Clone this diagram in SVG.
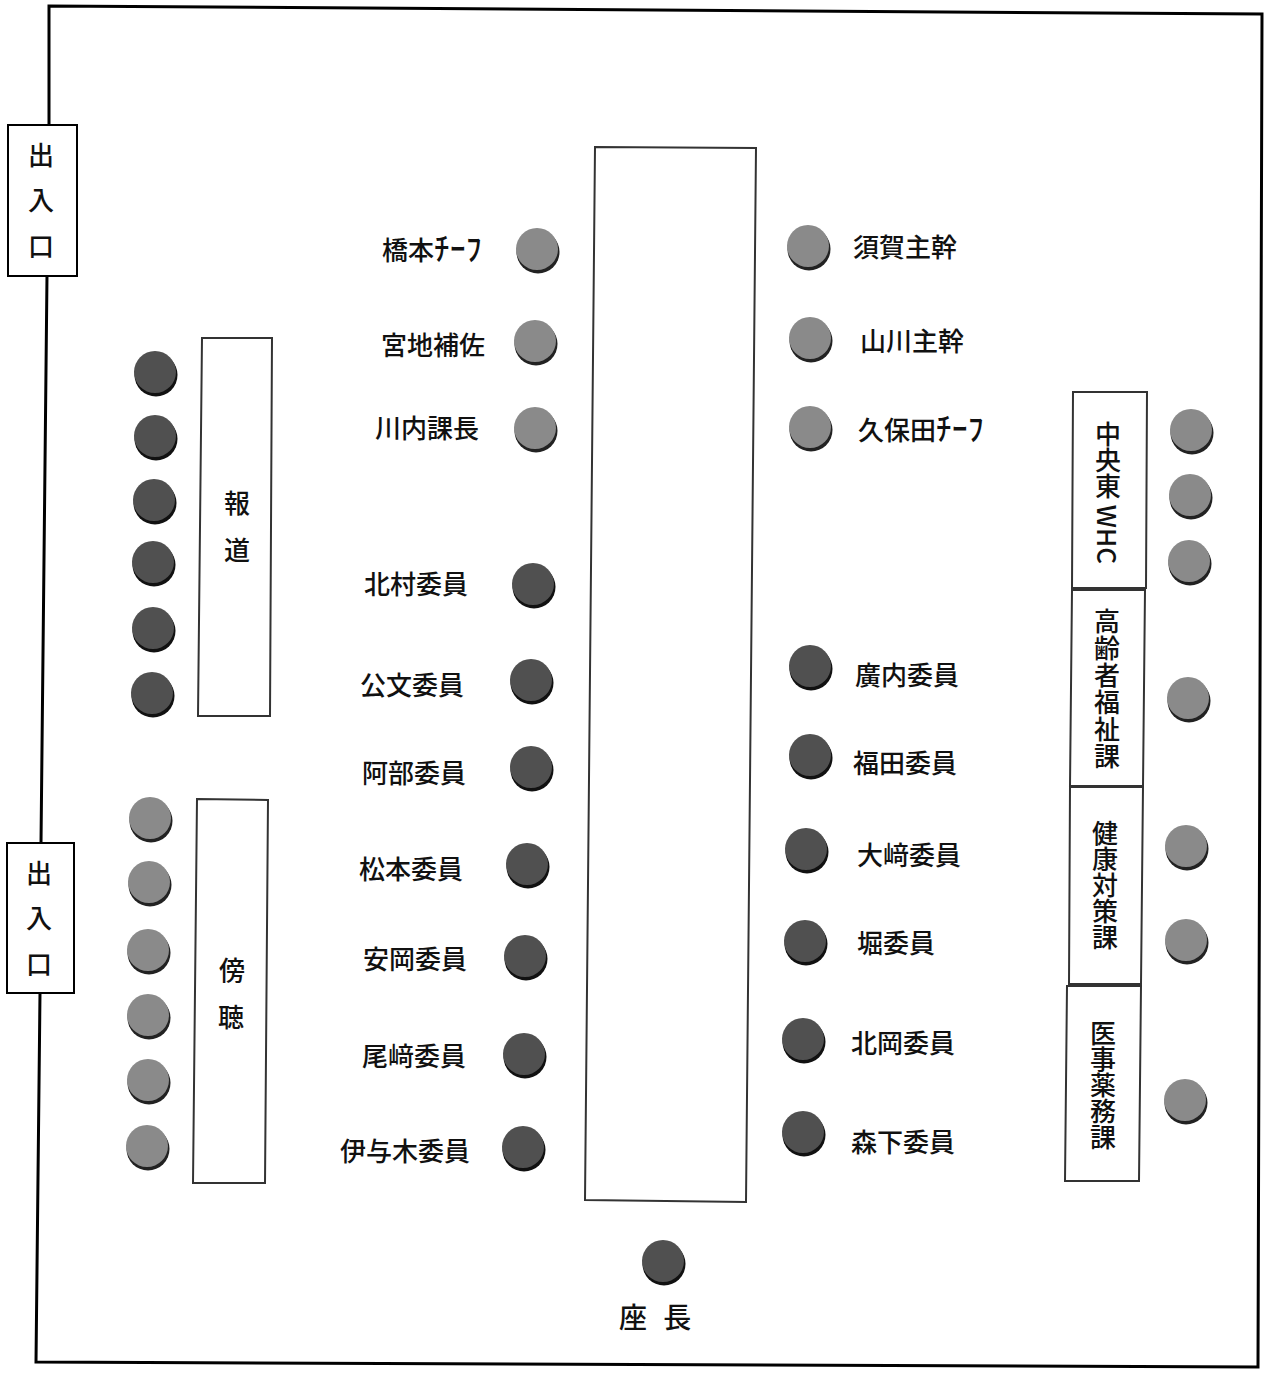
<svg xmlns="http://www.w3.org/2000/svg" xmlns:xlink="http://www.w3.org/1999/xlink" width="1277" height="1375" viewBox="0 0 1277 1375">
<style>
.wall{fill:none;stroke:#000;stroke-width:3;stroke-linejoin:miter}
.door{fill:#fff;stroke:#000;stroke-width:2}
.tbl{fill:#fff;stroke:#333;stroke-width:2}
.t{font-family:"Noto Sans CJK JP","Noto Sans",sans-serif;font-size:26px;fill:#111;font-weight:500}
.v{font-family:"Noto Sans CJK JP","Noto Sans",sans-serif;font-size:26px;fill:#111;font-weight:500;writing-mode:vertical-rl;text-anchor:start}
.c{text-anchor:middle}
.e{text-anchor:end}
.hw{font-size:31px;letter-spacing:0.5px}
</style>
<defs>
<g id="seatD"><circle cx="1" cy="3" r="21.5" fill="#111"/><circle cx="0" cy="0" r="21" fill="#505050"/></g>
<g id="seatL"><circle cx="1" cy="3" r="21.5" fill="#222"/><circle cx="0" cy="0" r="21" fill="#8a8a8a"/></g>
</defs>
<rect width="1277" height="1375" fill="#fff"/>
<g id="room">
<path class="wall" d="M49,125 L49,6 L1262,14 L1258,1367 L36,1362 L40,993 M41,843 L47,275"/>
</g>
<g id="door1"><rect class="door" x="8" y="125" width="69" height="151"/>
<text class="t c" x="41" y="165">出</text><text class="t c" x="41" y="210">入</text><text class="t c" x="41" y="256">口</text></g>
<g id="door2"><rect class="door" x="7" y="843" width="67" height="150"/>
<text class="t c" x="39" y="883">出</text><text class="t c" x="39" y="928">入</text><text class="t c" x="39" y="974">口</text></g>
<g id="table"><polygon class="tbl" points="595,147 756,148 746,1202 585,1200"/></g>
<g id="press"><polygon class="tbl" points="202,338 272,338 270,716 198,716"/>
<text class="t c" x="237" y="513">報</text><text class="t c" x="237" y="560">道</text>
<use xlink:href="#seatD" x="155" y="372"/><use xlink:href="#seatD" x="155" y="436"/><use xlink:href="#seatD" x="154" y="500"/><use xlink:href="#seatD" x="153" y="562"/><use xlink:href="#seatD" x="153" y="628"/><use xlink:href="#seatD" x="152" y="693"/></g>
<g id="audience"><polygon class="tbl" points="197,799 268,800 265,1183 193,1183"/>
<text class="t c" x="232" y="980">傍</text><text class="t c" x="231" y="1027">聴</text>
<use xlink:href="#seatL" x="150" y="818"/><use xlink:href="#seatL" x="149" y="882"/><use xlink:href="#seatL" x="148" y="950"/><use xlink:href="#seatL" x="148" y="1015"/><use xlink:href="#seatL" x="148" y="1080"/><use xlink:href="#seatL" x="147" y="1146"/></g>
<g id="left-seats">
<g id="hashimoto"><use xlink:href="#seatL" x="537" y="249"/><text class="t" x="382" y="260">橋本<tspan class="hw">ﾁｰﾌ</tspan></text></g>
<g id="miyachi"><use xlink:href="#seatL" x="535" y="341"/><text class="t e" x="485" y="355">宮地補佐</text></g>
<g id="kawauchi"><use xlink:href="#seatL" x="535" y="428"/><text class="t e" x="479" y="438">川内課長</text></g>
<g id="kitamura"><use xlink:href="#seatD" x="533" y="584"/><text class="t e" x="468" y="594">北村委員</text></g>
<g id="kumon"><use xlink:href="#seatD" x="531" y="680"/><text class="t e" x="464" y="695">公文委員</text></g>
<g id="abe"><use xlink:href="#seatD" x="531" y="767"/><text class="t e" x="466" y="783">阿部委員</text></g>
<g id="matsumoto"><use xlink:href="#seatD" x="527" y="864"/><text class="t e" x="463" y="879">松本委員</text></g>
<g id="yasuoka"><use xlink:href="#seatD" x="525" y="956"/><text class="t e" x="467" y="969">安岡委員</text></g>
<g id="ozaki"><use xlink:href="#seatD" x="524" y="1054"/><text class="t e" x="466" y="1066">尾﨑委員</text></g>
<g id="iyoki"><use xlink:href="#seatD" x="523" y="1147"/><text class="t e" x="470" y="1161">伊与木委員</text></g>
</g>
<g id="right-seats">
<g id="suga"><use xlink:href="#seatL" x="808" y="246"/><text class="t" x="853" y="257">須賀主幹</text></g>
<g id="yamakawa"><use xlink:href="#seatL" x="810" y="338"/><text class="t" x="860" y="351">山川主幹</text></g>
<g id="kubota"><use xlink:href="#seatL" x="810" y="427"/><text class="t" x="858" y="440">久保田<tspan class="hw">ﾁｰﾌ</tspan></text></g>
<g id="hirouchi"><use xlink:href="#seatD" x="810" y="666"/><text class="t" x="855" y="685">廣内委員</text></g>
<g id="fukuda"><use xlink:href="#seatD" x="810" y="755"/><text class="t" x="853" y="773">福田委員</text></g>
<g id="osaki"><use xlink:href="#seatD" x="806" y="849"/><text class="t" x="857" y="865">大﨑委員</text></g>
<g id="hori"><use xlink:href="#seatD" x="805" y="941"/><text class="t" x="857" y="953">堀委員</text></g>
<g id="kitaoka"><use xlink:href="#seatD" x="803" y="1039"/><text class="t" x="851" y="1053">北岡委員</text></g>
<g id="morishita"><use xlink:href="#seatD" x="803" y="1132"/><text class="t" x="851" y="1152">森下委員</text></g>
</g>
<g id="chair"><use xlink:href="#seatD" x="663" y="1261"/><text class="t" x="619" y="1328" style="font-size:28px;letter-spacing:5px" xml:space="preserve">座 長</text></g>
<g id="dept">
<g id="whc"><polygon class="tbl" points="1073,392 1147,392 1146,588 1072,588"/><text class="v" x="1108" y="421" xml:space="preserve">中央東 WHC</text>
<use xlink:href="#seatL" x="1191" y="430"/><use xlink:href="#seatL" x="1190" y="495"/><use xlink:href="#seatL" x="1189" y="561"/></g>
<g id="koureisha"><polygon class="tbl" points="1072,590 1145,590 1143,786 1070,786"/><text class="v" x="1107" y="608" style="letter-spacing:1px">高齢者福祉課</text>
<use xlink:href="#seatL" x="1188" y="698"/></g>
<g id="kenkou"><polygon class="tbl" points="1070,787 1143,787 1141,984 1069,984"/><text class="v" x="1105" y="820">健康対策課</text>
<use xlink:href="#seatL" x="1186" y="846"/><use xlink:href="#seatL" x="1186" y="940"/></g>
<g id="iji"><polygon class="tbl" points="1067,986 1141,986 1139,1181 1065,1181"/><text class="v" x="1103" y="1020">医事薬務課</text>
<use xlink:href="#seatL" x="1185" y="1100"/></g>
</g>
</svg>
